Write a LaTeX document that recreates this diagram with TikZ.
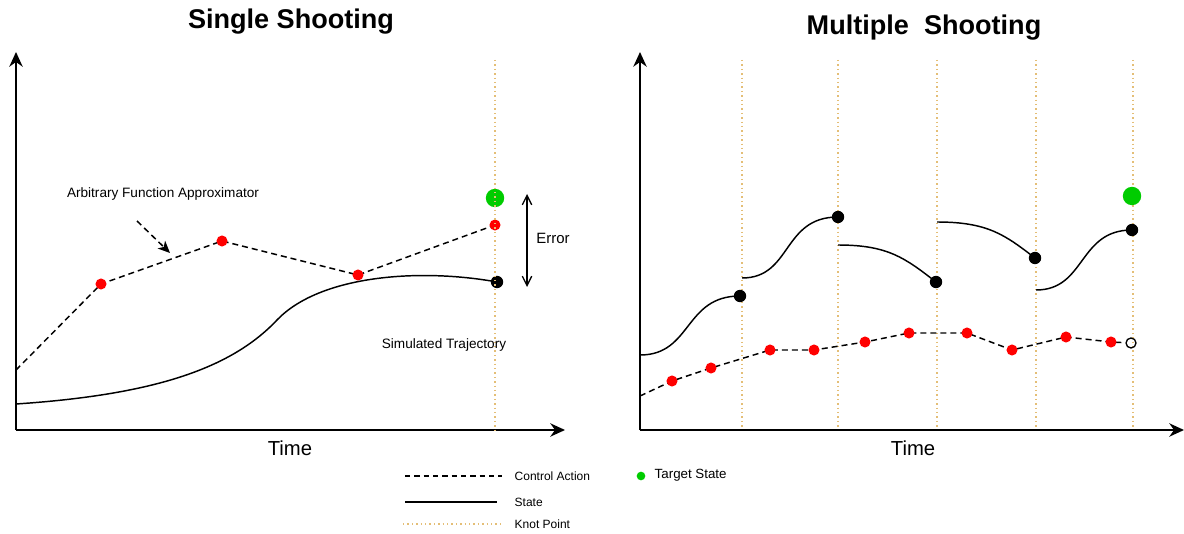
\documentclass[tikz,border=0pt]{standalone}
\usepackage{fontspec}
\setmainfont{Liberation Sans}
\usetikzlibrary{arrows.meta}
\definecolor{knotc}{RGB}{228,190,118}
\definecolor{goalc}{RGB}{0,204,0}
\begin{document}
\begin{tikzpicture}[x=0.75pt,y=-0.75pt,
  axis/.style={line width=1.4pt,-{Stealth[length=11pt,width=10pt,inset=3.5pt]}},
  ctrl/.style={line width=1.1pt,dash pattern=on 4.5pt off 3pt},
  statecurve/.style={line width=1.1pt},
  knot/.style={draw=knotc,line width=1.1pt,dash pattern=on 1.1pt off 2.2pt},
  reddot/.style={circle,fill=red,inner sep=0pt,minimum size=8.3pt},
  blackdot/.style={circle,fill=black,inner sep=0pt,minimum size=9.3pt},
  opendot/.style={circle,draw=black,line width=1pt,inner sep=0pt,minimum size=7.5pt},
  goaldot/.style={circle,fill=goalc,inner sep=0pt,minimum size=13.8pt},
  titletext/.style={font=\fontsize{20.3}{24}\selectfont\bfseries},
  timetext/.style={font=\fontsize{15.2}{18}\selectfont},
  notetext/.style={font=\fontsize{10.2}{12}\selectfont},
  legendtext/.style={font=\fontsize{9}{11}\selectfont,anchor=west},
]
\useasboundingbox (0,0) rectangle (1184,534);

%% ---------------- Single shooting ----------------
\node[titletext] (t1) at (291,22) {Single Shooting};

\coordinate (o1) at (16,430);
\coordinate (yt1) at (16,52);
\coordinate (xt1) at (565,430);
\draw[axis] (o1) -- (yt1);
\draw[axis] (o1) -- (xt1);
\node[timetext] (time1) at (290,448) {Time};

% control action
\coordinate (a0) at (16,370);
\coordinate (a1) at (101,284);
\coordinate (a2) at (222,241);
\coordinate (a3) at (358,275);
\coordinate (a4) at (495,225);
\draw[ctrl] (a0) -- (a1) -- (a2) -- (a3) -- (a4);

% simulated state
\coordinate (s0) at (16,404);
\coordinate (sm) at (277,320);
\coordinate (s1) at (497,282);
\draw[statecurve] (s0) .. controls (150,395) and (230,370) .. (sm)
                       .. controls (320,275) and (420,268) .. (s1);

\node[reddot] (a1d) at (a1) {};
\node[reddot] (a2d) at (a2) {};
\node[reddot] (a3d) at (a3) {};
\node[reddot] (a4d) at (a4) {};
\node[blackdot] (s1d) at (s1) {};
\node[goaldot] (g1) at (495,198) {};

% knot point at the final time
\coordinate (k1t) at (495,60);
\coordinate (k1b) at (495,430);
\draw[knot] (k1t) -- (k1b);

% annotations
\node[notetext] (afa) at (163,194) {Arbitrary Function Approximator};
\coordinate (afs) at (137,221);
\coordinate (afe) at (170,253);
\draw[ctrl,-{Stealth[length=9pt,width=8pt,inset=2.5pt]}] (afs) -- (afe);

\coordinate (e1) at (527,194);
\coordinate (e2) at (527,287);
\draw[line width=1pt,{Straight Barb[length=7pt,width=7pt]}-{Straight Barb[length=7pt,width=7pt]}] (e1) -- (e2);
\node[font=\fontsize{11.2}{13}\selectfont] (err) at (553,238) {Error};

\node[notetext] (sim) at (444,345) {Simulated Trajectory};

%% ---------------- Legend ----------------
\coordinate (l1a) at (405,476); \coordinate (l1b) at (502,476);
\coordinate (l2a) at (405,502); \coordinate (l2b) at (497,502);
\coordinate (l3a) at (403,524); \coordinate (l3b) at (502,524);
\draw[line width=1pt,dash pattern=on 4pt off 3pt] (l1a) -- (l1b);
\draw[line width=1.1pt] (l2a) -- (l2b);
\draw[knot] (l3a) -- (l3b);
\node[legendtext] (lt1) at (510,476) {Control Action};
\node[legendtext] (lt2) at (510,502) {State};
\node[legendtext] (lt3) at (510,524) {Knot Point};
\node[circle,fill=goalc,inner sep=0pt,minimum size=6.5pt] (lg) at (641,476) {};
\node[legendtext,font=\fontsize{10}{12}\selectfont] (lt4) at (650,475) {Target State};

%% ---------------- Multiple shooting ----------------
\node[titletext] (t2) at (924,28) {Multiple\ \ Shooting};

\coordinate (o2) at (640,430);
\coordinate (yt2) at (640,52);
\coordinate (xt2) at (1184,430);

% knot points
\foreach \k/\x in {1/742,2/838,3/937,4/1036,5/1133}{
  \coordinate (kt\k) at (\x,60);
  \coordinate (kb\k) at (\x,430);
  \draw[knot] (kt\k) -- (kb\k);
}

\draw[axis] (o2) -- (yt2);
\draw[axis] (o2) -- (xt2);
\node[timetext] (time2) at (913,448) {Time};

% control action; the last sample is left open
\coordinate (b0) at (640,396);
\coordinate (b1) at (672,381);
\coordinate (b2) at (711,368);
\coordinate (b3) at (770,350);
\coordinate (b4) at (814,350);
\coordinate (b5) at (865,342);
\coordinate (b6) at (909,333);
\coordinate (b7) at (967,333);
\coordinate (b8) at (1012,350);
\coordinate (b9) at (1066,337);
\coordinate (b10) at (1111,342);
\node[opendot] (b11d) at (1131,343) {};
\draw[ctrl] (b0) -- (b1) -- (b2) -- (b3) -- (b4) -- (b5) -- (b6) -- (b7)
            -- (b8) -- (b9) -- (b10) -- (b11d);
\foreach \i in {1,...,10}{ \node[reddot] (b\i d) at (b\i) {}; }

% shooting segments
\coordinate (p0) at (640,355);  \coordinate (q0) at (740,296);
\coordinate (p1) at (742,278);  \coordinate (q1) at (838,217);
\coordinate (p2) at (838,245);  \coordinate (q2) at (936,282);
\coordinate (p3) at (937,222);  \coordinate (q3) at (1035,258);
\coordinate (p4) at (1036,290); \coordinate (q4) at (1132,230);
\draw[statecurve] (p0) .. controls (692,355) and (684,296) .. (q0);
\draw[statecurve] (p1) .. controls (792,278) and (782,217) .. (q1);
\draw[statecurve] (p2) .. controls (888,245) and (905,258) .. (q2);
\draw[statecurve] (p3) .. controls (988,222) and (1005,235) .. (q3);
\draw[statecurve] (p4) .. controls (1086,290) and (1078,230) .. (q4);
\foreach \i in {0,...,4}{ \node[blackdot] (q\i d) at (q\i) {}; }

\node[goaldot] (g2) at (1132,196) {};
\end{tikzpicture}
\end{document}
